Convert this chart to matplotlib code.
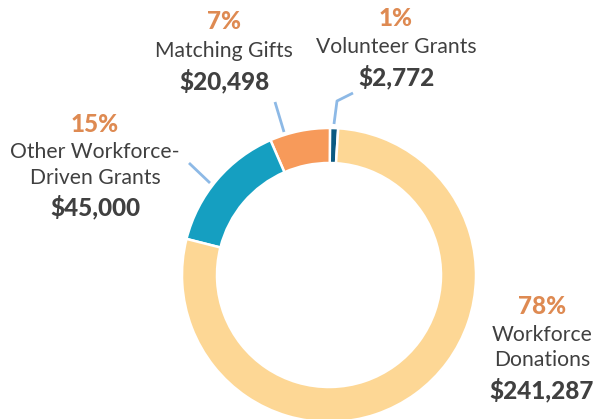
import matplotlib
matplotlib.use("Agg")
import matplotlib.pyplot as plt

# Program funding breakdown
categories = ["Volunteer Grants", "Matching Gifts", "Other Workforce-\nDriven Grants", "Workforce\nDonations"]
amounts = [2772, 20498, 45000, 241287]
colors = ["#0B5A82", "#F79A5A", "#159FC1", "#FDD795"]

W, H = 597, 419
fig = plt.figure(figsize=(W / 100, H / 100), dpi=100)
ax = fig.add_axes([0, 0, 1, 1])

def py(y):
    return H - y

cx, cy, r = 329, 275, 147
ax.pie(amounts, colors=colors, startangle=86.4, counterclock=True,
       center=(cx, py(cy)), radius=r, frame=True,
       wedgeprops=dict(width=35, edgecolor="white", linewidth=1.8))
ax.set_xlim(0, W)
ax.set_ylim(0, H)
ax.axis("off")

total = sum(amounts)
pct = [round(a / total * 100) for a in amounts]

FONT = "Lato"
pct_color = "#DE8A52"
txt_color = "#404040"
line_color = "#8DB9E6"

# label blocks: (x, y of percent, y of name lines, y of amount)
blocks = [
    (396, 19, [47], 77),
    (224, 22, [51], 81),
    (95, 125, [152, 178], 207),
    (542, 306, [335, 360], 390),
]

for (x, yp, ys, ya), name, a, p in zip(blocks, categories, amounts, pct):
    ax.text(x, py(yp), f"{p}%", ha="center", va="center", fontsize=17.5,
            fontweight="black", color=pct_color, family=FONT)
    for ln, yy in zip(name.split("\n"), ys):
        ax.text(x, py(yy), ln, ha="center", va="center", fontsize=15.2,
                color=txt_color, family=FONT)
    ax.text(x, py(ya), f"${a:,}", ha="center", va="center", fontsize=17.5,
            fontweight="black", color=txt_color, family=FONT)

# leader lines
ax.plot([353, 337, 334], [py(93), py(101), py(124)], color=line_color, lw=2,
        solid_capstyle="butt")
ax.plot([275, 284], [py(102), py(132)], color=line_color, lw=2, solid_capstyle="butt")
ax.plot([189, 210], [py(163), py(183)], color=line_color, lw=2, solid_capstyle="butt")

fig.savefig("out.png", dpi=100)
